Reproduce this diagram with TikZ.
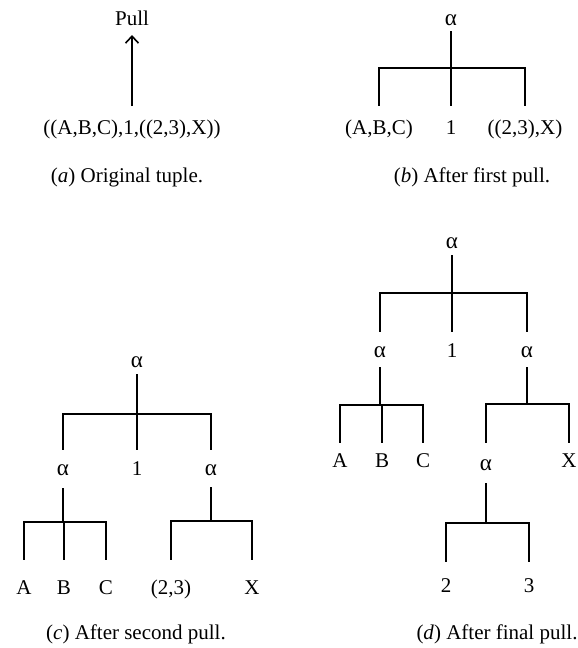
\documentclass[tikz,border=0pt]{standalone}
\usepackage{fontspec}
\setmainfont{Liberation Serif}
\usetikzlibrary{arrows.meta}
\newcommand{\alphanode}{{\fontsize{23}{25}\selectfont α}}
\begin{document}
\begin{tikzpicture}[x=1pt,y=-1pt,
  lbl/.style={anchor=base,inner sep=0pt,outer sep=0pt,text height=14pt,text depth=0pt,
    font=\fontsize{21}{25}\selectfont},
  caption/.style={anchor=base,inner sep=0pt,font=\fontsize{21}{25}\selectfont},
  edge/.style={line width=1.5pt},
  pull/.style={line width=1.5pt,-{Straight Barb[length=7pt,width=13pt,line width=1.6pt]}}
  ]
\useasboundingbox (0,0) rectangle (578,648);

% (a) the tuple before any pull
\node[lbl] (a-pull) at (132,25) {Pull};
\node[lbl] (a-tup) at (132,134) {((A,B,C),1,((2,3),X))};
\draw[pull,shorten <=14pt,shorten >=10pt] (a-tup.north) -- (a-pull.south);
\node[caption] (a-cap) at (127,182) {(\textit{a}) Original tuple.};

% (b) one level pulled out
\node[lbl] (b-root) at (451,25) {\alphanode};
\node[lbl] (b-l) at (379,134) {(A,B,C)};
\node[lbl] (b-m) at (451,134) {1};
\node[lbl] (b-r) at (525,134) {((2,3),X)};
\coordinate (b-j) at (451,68);
\draw[edge,shorten <=6pt] (b-root.south) -- (b-j);
\foreach \c in {b-l,b-m,b-r} \draw[edge,shorten >=14pt] (b-j) -| (\c.north);
\node[caption] (b-cap) at (472,182) {(\textit{b}) After first pull.};

% (c) two levels pulled out
\node[lbl] (c-root) at (137,367) {\alphanode};
\node[lbl] (c-l) at (63,475) {\alphanode};
\node[lbl] (c-m) at (137,475) {1};
\node[lbl] (c-r) at (211,475) {\alphanode};
\coordinate (c-j) at (137,414);
\draw[edge,shorten <=7pt] (c-root.south) -- (c-j);
\foreach \c in {c-l,c-m,c-r} \draw[edge,shorten >=11pt] (c-j) -| (\c.north);
\node[lbl] (c-a) at (24,594) {A};
\node[lbl] (c-b) at (64,594) {B};
\node[lbl] (c-c) at (106,594) {C};
\coordinate (c-lj) at (63,522);
\draw[edge,shorten <=13pt] (c-l.south) -- (c-lj);
\foreach \c in {c-a,c-b,c-c} \draw[edge,shorten >=20pt] (c-lj) -| (\c.north);
\node[lbl] (c-p) at (171,594) {(2,3)};
\node[lbl] (c-x) at (252,594) {X};
\coordinate (c-rj) at (211,521);
\draw[edge,shorten <=12pt] (c-r.south) -- (c-rj);
\foreach \c in {c-p,c-x} \draw[edge,shorten >=20pt] (c-rj) -| (\c.north);
\node[caption] (c-cap) at (136,639) {(\textit{c}) After second pull.};

% (d) fully pulled tree
\node[lbl] (d-root) at (452,248) {\alphanode};
\node[lbl] (d-l) at (380,357) {\alphanode};
\node[lbl] (d-m) at (452,357) {1};
\node[lbl] (d-r) at (527,357) {\alphanode};
\coordinate (d-j) at (452,293);
\draw[edge,shorten <=7pt] (d-root.south) -- (d-j);
\foreach \c in {d-l,d-m,d-r} \draw[edge,shorten >=11pt] (d-j) -| (\c.north);
\node[lbl] (d-a) at (340,467) {A};
\node[lbl] (d-b) at (382,467) {B};
\node[lbl] (d-c) at (423,467) {C};
\coordinate (d-lj) at (380,405);
\draw[edge,shorten <=10pt] (d-l.south) -- (d-lj);
\foreach \c in {d-a,d-b,d-c} \draw[edge,shorten >=10pt] (d-lj) -| (\c.north);
\node[lbl] (d-s) at (486,470) {\alphanode};
\node[lbl] (d-x) at (569,467) {X};
\coordinate (d-rj) at (527,404);
\draw[edge,shorten <=10pt] (d-r.south) -- (d-rj);
\draw[edge,shorten >=13pt] (d-rj) -| (d-s.north);
\draw[edge,shorten >=10pt] (d-rj) -| (d-x.north);
\node[lbl] (d-2) at (446,592) {2};
\node[lbl] (d-3) at (529,592) {3};
\coordinate (d-sj) at (486,523);
\draw[edge,shorten <=13pt] (d-s.south) -- (d-sj);
\foreach \c in {d-2,d-3} \draw[edge,shorten >=16pt] (d-sj) -| (\c.north);
\node[caption] (d-cap) at (497,639) {(\textit{d}) After final pull.};
\end{tikzpicture}
\end{document}
